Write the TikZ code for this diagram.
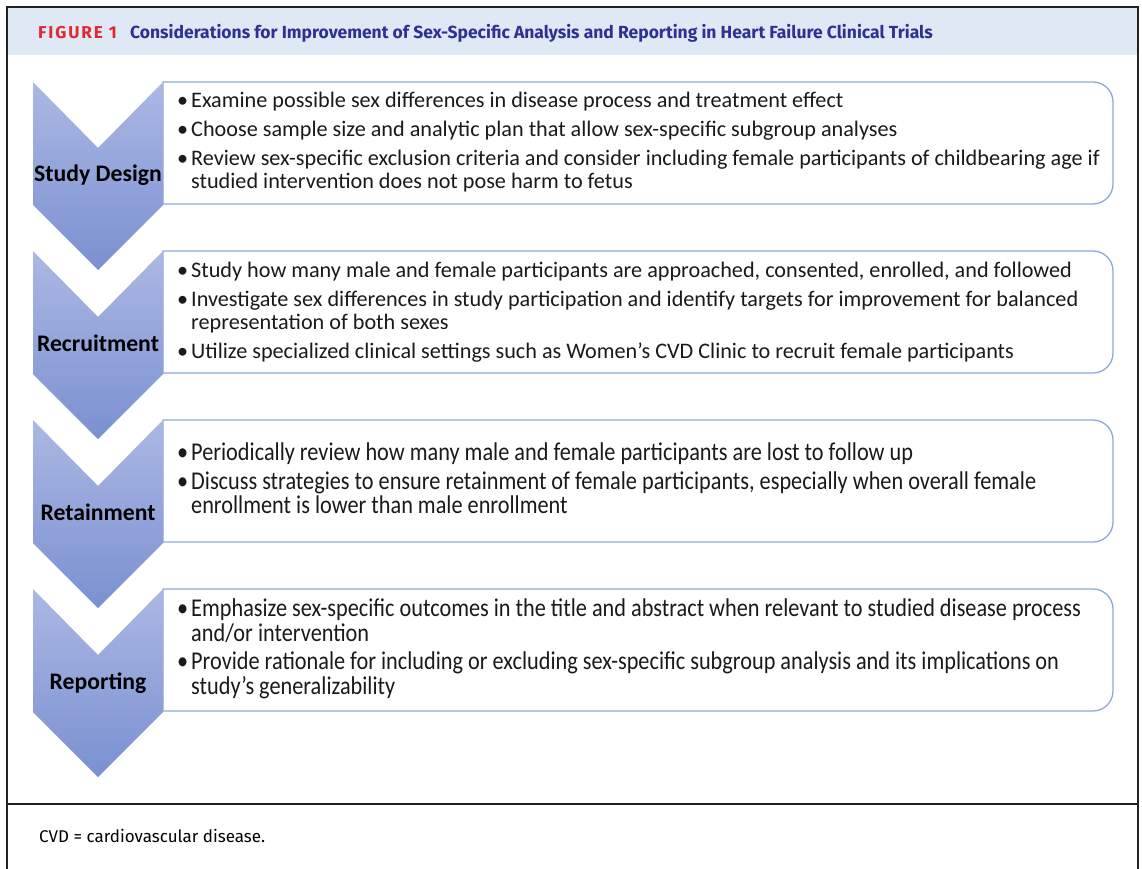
\documentclass[tikz,border=0pt]{standalone}
\usepackage{fontspec}
\setmainfont{Carlito}
\newfontfamily\bodyfont{Carlito}
\newfontfamily\condfont{Carlito}[FakeStretch=0.87]
\newfontfamily\headfont{Fira Sans}
\newfontfamily\capsfont{Fira Sans}[LetterSpace=11]
\newfontfamily\notefont{Fira Sans}

\definecolor{headbg}{HTML}{DEE9F5}
\definecolor{figred}{HTML}{E5262F}
\definecolor{titleblue}{HTML}{2E3192}
\definecolor{chevtop}{HTML}{ABB8E3}
\definecolor{chevbot}{HTML}{7A90D1}
\definecolor{boxline}{HTML}{8EAADB}
\definecolor{textdark}{HTML}{1A1A1A}
\definecolor{framegray}{HTML}{222222}

\tikzset{
  panel/.style={draw=boxline, line width=1.3pt, fill=white},
  chevron/.style={top color=chevtop, bottom color=chevbot},
  chevlabel/.style={anchor=base, inner sep=0pt, text=black,
    font=\bodyfont\bfseries\fontsize{23.7}{27}\selectfont},
  bodytext/.style={anchor=base west, inner sep=0pt, text=textdark,
    font=\bodyfont\fontsize{22.2}{23}\selectfont},
  condtext/.style={anchor=base west, inner sep=0pt, text=textdark,
    font=\condfont\fontsize{25.6}{25}\selectfont},
  frameline/.style={draw=framegray, line width=2.2pt},
}

% one bullet line: name, style, baseline, text
\newcommand\bulline[4]{%
  \node[#2] (#1-dot) at (177,#3) {\textbullet};
  \node[#2] (#1) at (191,#3) {#4};}
% continuation line of a bullet
\newcommand\contline[4]{\node[#2] (#1) at (191,#3) {#4};}

\begin{document}
\begin{tikzpicture}[x=1pt, y=-1pt]
  \useasboundingbox (0,0) rectangle (1142,869);
  \fill[white] (0,0) rectangle (1142,869);

  % header band
  \fill[headbg] (8,8) rectangle (1137,55);
  \node[anchor=base west, inner sep=0pt, text=figred,
        font=\capsfont\bfseries\fontsize{17.2}{20}\selectfont] (fig) at (38,39) {FIGURE 1};
  \node[anchor=base west, inner sep=0pt, text=titleblue,
        font=\headfont\bfseries\fontsize{17.5}{20}\selectfont] (title) at (130,39)
        {Considerations for Improvement of Sex-Specific Analysis and Reporting in Heart Failure Clinical Trials};

  % outer frame and footer rule
  \draw[draw=framegray, line width=1.2pt] (7,7) -- (1138,7);
  \draw[frameline] (7,6.5) -- (7,875);
  \draw[frameline] (1138,6.5) -- (1138,875);
  \draw[frameline] (7,804) -- (1138,804);

  % panels and chevrons
  \foreach \t/\lab/\nm in {82/Study Design/sd, 251/Recruitment/rc, 420/Retainment/rt, 589/Reporting/rp}{
    \draw[panel] (163,\t) -- (1093,\t) arc[start angle=90, end angle=0, radius=20pt]
      -- (1113,{\t+102}) arc[start angle=0, end angle=-90, radius=20pt]
      -- (163,{\t+122}) -- cycle;
    \shade[chevron] (33,\t) -- (98,{\t+66}) -- (163,\t) -- (163,{\t+123})
      -- (98,{\t+188}) -- (33,{\t+123}) -- cycle;
    \node[chevlabel] (\nm) at (98,{\t+100}) {\lab};
  }

  % study design
  \bulline{sd1}{bodytext}{108}{Examine possible sex differences in disease process and treatment effect}
  \bulline{sd2}{bodytext}{137}{Choose sample size and analytic plan that allow sex-specific subgroup analyses}
  \bulline{sd3}{bodytext}{166}{Review sex-specific exclusion criteria and consider including female participants of childbearing age if}
  \contline{sd3b}{bodytext}{189}{studied intervention does not pose harm to fetus}

  % recruitment
  \bulline{rc1}{bodytext}{277}{Study how many male and female participants are approached, consented, enrolled, and followed}
  \bulline{rc2}{bodytext}{306}{Investigate sex differences in study participation and identify targets for improvement for balanced}
  \contline{rc2b}{bodytext}{329}{representation of both sexes}
  \bulline{rc3}{bodytext}{358}{Utilize specialized clinical settings such as Women’s CVD Clinic to recruit female participants}

  % retainment
  \bulline{rt1}{condtext}{460}{Periodically review how many male and female participants are lost to follow up}
  \bulline{rt2}{condtext}{489}{Discuss strategies to ensure retainment of female participants, especially when overall female}
  \contline{rt2b}{condtext}{513}{enrollment is lower than male enrollment}

  % reporting
  \bulline{rp1}{condtext}{616}{Emphasize sex-specific outcomes in the title and abstract when relevant to studied disease process}
  \contline{rp1b}{condtext}{641}{and/or intervention}
  \bulline{rp2}{condtext}{669}{Provide rationale for including or excluding sex-specific subgroup analysis and its implications on}
  \contline{rp2b}{condtext}{694}{study’s generalizability}

  % footnote
  \node[anchor=base west, inner sep=0pt, text=black,
        font=\notefont\fontsize{17}{20}\selectfont] (note) at (39,842) {CVD = cardiovascular disease.};
\end{tikzpicture}
\end{document}
